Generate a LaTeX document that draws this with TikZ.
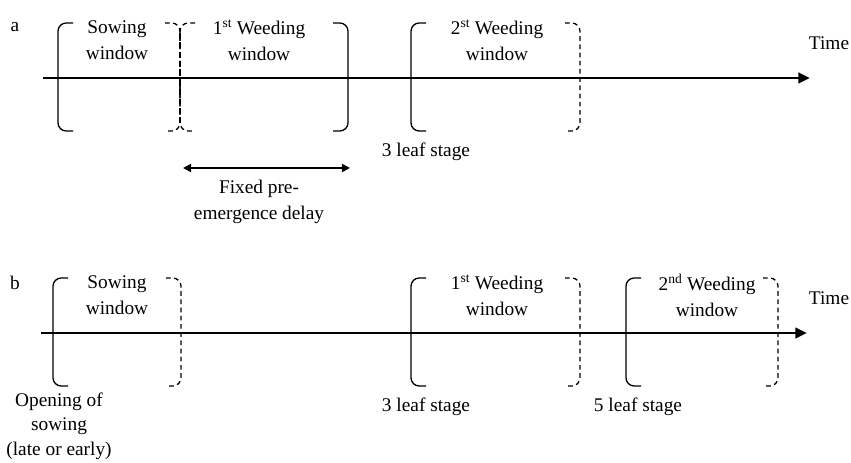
\documentclass[tikz,border=0pt]{standalone}
\usepackage{fontspec}
\setmainfont{Liberation Serif}
\usetikzlibrary{arrows.meta, positioning}

\begin{document}
\begin{tikzpicture}[x=0.3mm, y=0.3mm,
  timeaxis/.style={line width=2.4pt, -{Triangle[length=10pt, width=9pt]}},
  openbr/.style={line width=1.1pt, rounded corners=7pt},
  closebr/.style={line width=1.1pt, rounded corners=7pt, dash pattern=on 4pt off 3pt},
  lbl/.style={font=\fontsize{16.5}{22}\selectfont, align=center, inner sep=0pt}]

  \useasboundingbox (0,0) rectangle (851,462);

  % PANEL A: fixed delay after sowing
  \begin{scope}[yshift=11.52cm]
    \coordinate (a-start) at (43,0);
    \coordinate (a-end) at (810,0);
    \draw[timeaxis] (a-start) -- (a-end);
    \node[lbl] (a-tag) at (15,51) {a};
    \node[lbl] (a-time) at (829,35) {Time};

    % Sowing window
    \draw[openbr] (73,55) -- (58,55) -- (58,-53) -- (73,-53);
    \node[lbl] (a-sow) at (117,38) {Sowing\\window};

    % Shared dashed limit
    \draw[closebr] (165,55) -- (180,55) -- (180,-53) -- (165,-53);
    \draw[closebr] (195,55) -- (180,55) -- (180,-53) -- (195,-53);
    \draw[line width=2pt, dash pattern=on 5pt off 3pt] (180,45) -- (180,-45);

    % 1st weeding window
    \node[lbl] (a-weed1) at (259,38) {1\textsuperscript{st} Weeding\\window};
    \draw[openbr] (333,55) -- (348,55) -- (348,-53) -- (333,-53);

    % 2nd weeding window
    \draw[openbr] (426,55) -- (411,55) -- (411,-53) -- (426,-53);
    \node[lbl] (a-weed2) at (497,38) {2\textsuperscript{st} Weeding\\window};
    \draw[closebr] (565,55) -- (580,55) -- (580,-53) -- (565,-53);
    \node[lbl] (a-leaf3) at (426,-74) {3 leaf stage};

    % Delay arrow
    \coordinate (delay-l) at (183,-90);
    \coordinate (delay-r) at (350,-90);
    \draw[line width=1.6pt, {Triangle[length=7pt, width=7pt]}-{Triangle[length=7pt, width=7pt]}] (delay-l) -- (delay-r);
    \node[lbl] (a-delay) at (259,-124) {Fixed pre-\\emergence delay};
  \end{scope}

  % PANEL B: windows set by leaf stages
  \begin{scope}[yshift=3.87cm]
    \coordinate (b-start) at (41,0);
    \coordinate (b-end) at (807,0);
    \draw[timeaxis] (b-start) -- (b-end);
    \node[lbl] (b-tag) at (15,50) {b};
    \node[lbl] (b-time) at (829,35) {Time};

    % Sowing window
    \draw[openbr] (68,55) -- (53,55) -- (53,-53) -- (68,-53);
    \node[lbl] (b-sow) at (117,38) {Sowing\\window};
    \draw[closebr] (166,55) -- (181,55) -- (181,-53) -- (166,-53);
    \node[lbl, font=\fontsize{16.5}{21}\selectfont] (b-open) at (59,-93) {Opening of\\sowing\\(late or early)};

    % 1st weeding window
    \draw[openbr] (426,55) -- (411,55) -- (411,-53) -- (426,-53);
    \node[lbl] (b-weed1) at (497,38) {1\textsuperscript{st} Weeding\\window};
    \draw[closebr] (565,55) -- (580,55) -- (580,-53) -- (565,-53);
    \node[lbl] (b-leaf3) at (426,-74) {3 leaf stage};

    % 2nd weeding window
    \draw[openbr] (641,55) -- (626,55) -- (626,-53) -- (641,-53);
    \node[lbl] (b-weed2) at (707,38) {2\textsuperscript{nd} Weeding\\window};
    \draw[closebr] (763,55) -- (778,55) -- (778,-53) -- (763,-53);
    \node[lbl] (b-leaf5) at (638,-74) {5 leaf stage};
  \end{scope}
\end{tikzpicture}
\end{document}
